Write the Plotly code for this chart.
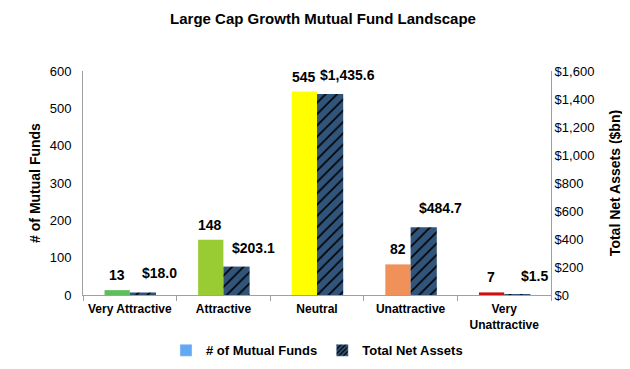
import plotly.graph_objects as go

categories = ["Very Attractive", "Attractive", "Neutral", "Unattractive", "Very<br>Unattractive"]
num_funds = [13, 148, 545, 82, 7]
total_net_assets = [18.0, 203.1, 1435.6, 484.7, 1.5]
fund_colors = ["#5cbf5c", "#99cc33", "#ffff00", "#f0915a", "#cc1111"]
left_ticks = [0, 100, 200, 300, 400, 500, 600]
right_ticks = [0, 200, 400, 600, 800, 1000, 1200, 1400, 1600]

FONT = "Liberation Sans, Arial, sans-serif"
BLUE = "#62a8f5"

fig = go.Figure()

fig.add_trace(go.Bar(
    x=categories, y=num_funds, yaxis="y",
    marker=dict(color=fund_colors, line=dict(width=0)),
    width=0.27, offset=-0.27,
    showlegend=False, name="# of Mutual Funds",
))
fig.add_trace(go.Bar(
    x=categories, y=total_net_assets, yaxis="y2",
    marker=dict(color="black", line=dict(width=0),
                pattern=dict(shape="/", fgcolor=BLUE, bgcolor="black", size=8, solidity=0.8)),
    width=0.28, offset=0,
    showlegend=False, name="Total Net Assets",
))
# legend entries
fig.add_trace(go.Bar(x=[None], y=[None], name="# of Mutual Funds",
                     marker=dict(color=BLUE), showlegend=True))
fig.add_trace(go.Bar(x=[None], y=[None], name="Total Net Assets",
                     marker=dict(color="black", pattern=dict(shape="/", fgcolor=BLUE, bgcolor="black", size=4, solidity=0.6)),
                     showlegend=True))

annotations = []
for c, v in zip(categories, num_funds):
    annotations.append(dict(x=c, y=v, xref="x", yref="y", text=f"<b>{v}</b>",
                            showarrow=False, xanchor="center", yanchor="bottom",
                            xshift=-13, yshift=5,
                            font=dict(family=FONT, size=14, color="black")))
for c, v in zip(categories, total_net_assets):
    annotations.append(dict(x=c, y=v, xref="x", yref="y2", text=f"<b>${v:,.1f}</b>",
                            showarrow=False, xanchor="center", yanchor="bottom",
                            xshift=30, yshift=9,
                            font=dict(family=FONT, size=14, color="black")))

fig.update_layout(
    width=630, height=369,
    margin=dict(l=75, r=87, t=63, b=74),
    paper_bgcolor="white", plot_bgcolor="white",
    font=dict(family=FONT, size=12, color="black"),
    title=dict(text="<b>Large Cap Growth Mutual Fund Landscape</b>", x=0.5, xanchor="center",
               y=0.97, yanchor="middle", font=dict(size=15, family=FONT)),
    barmode="overlay",
    annotations=annotations,
    xaxis=dict(showgrid=False, showline=True, linecolor="#a0a0a0", linewidth=1,
               ticks="outside", tickcolor="#a0a0a0", ticklen=5, tickson="boundaries",
               tickangle=0, automargin=False, ticklabelstandoff=3,
               tickfont=dict(family=FONT, size=12, color="black", weight=700)),
    yaxis=dict(range=[0, 600], tickvals=left_ticks, showgrid=False, zeroline=False,
               showline=True, linecolor="#a0a0a0", linewidth=1, automargin=False,
               ticklabelstandoff=8,
               title=dict(text="<b># of Mutual Funds</b>", font=dict(size=14), standoff=5),
               tickfont=dict(size=13)),
    yaxis2=dict(range=[0, 1600], tickvals=right_ticks,
                ticktext=["$" + f"{v:,}" for v in right_ticks],
                overlaying="y", side="right", showgrid=False, zeroline=False,
                showline=True, linecolor="#a0a0a0", linewidth=1, automargin=False,
                title=dict(text="<b>Total Net Assets ($bn)</b>", font=dict(size=14), standoff=16),
                tickfont=dict(size=13)),
    legend=dict(orientation="h", x=0.5, xanchor="center", y=-0.18, yanchor="top",
                font=dict(size=13, family=FONT, weight=700),
                traceorder="normal"),
    bargap=0.47,
)

fig.write_html("out.html")
